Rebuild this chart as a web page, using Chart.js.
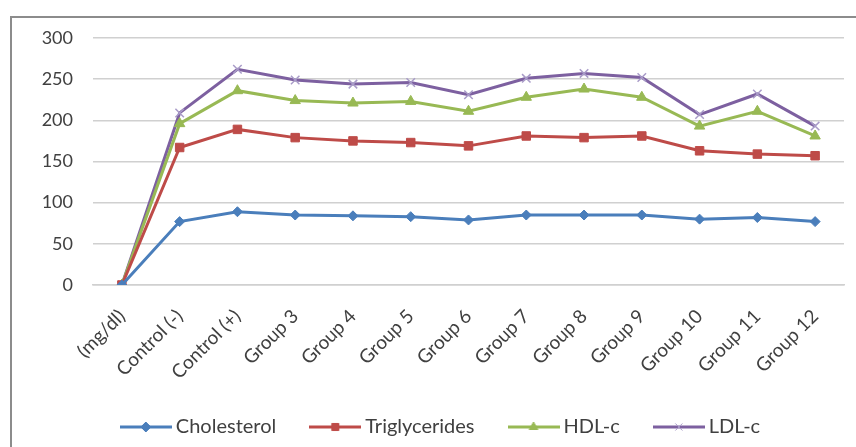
<!DOCTYPE html>
<html>
<head>
<meta charset="utf-8">
<script src="https://cdn.jsdelivr.net/npm/chart.js@4.4.0/dist/chart.umd.min.js"></script>
<style>
  html, body { margin: 0; padding: 0; background: #fff; }
  #wrap { position: relative; width: 856px; height: 447px; }
  #frame { position: absolute; left: 10px; top: 16px; width: 860px; height: 440px;
           border-left: 2px solid #8c8c8c; border-top: 2px solid #8c8c8c; box-sizing: border-box; }
  canvas { position: absolute; left: 0; top: 0; }
</style>
</head>
<body>
<div id="wrap">
  <div id="frame"></div>
  <canvas id="c" width="856" height="447"></canvas>
</div>
<script>
const categories = ["(mg/dl)", "Control (-)", "Control (+)", "Group 3", "Group 4", "Group 5", "Group 6", "Group 7", "Group 8", "Group 9", "Group 10", "Group 11", "Group 12"];
const cholesterol   = [0, 77, 89, 85, 84, 83, 79, 85, 85, 85, 80, 82, 77];
const triglycerides = [0, 167, 189, 179, 175, 173, 169, 181, 179, 181, 163, 159, 157];
const hdlc          = [0, 196, 236, 224, 221, 223, 211, 228, 238, 228, 193, 211, 181];
const ldlc          = [0, 209, 262, 249, 244, 246, 231, 251, 257, 252, 207, 232, 193];
const yTicks = [0, 50, 100, 150, 200, 250, 300];

const seriesDefs = [
  { label: "Cholesterol",   data: cholesterol,   color: "#4a7ebb", style: "rectRot",  r: 5 },
  { label: "Triglycerides", data: triglycerides, color: "#be4b48", style: "rect",     r: 6 },
  { label: "HDL-c",         data: hdlc,          color: "#98b954", style: "triangle", r: 6 },
  { label: "LDL-c",         data: ldlc,          color: "#7d60a0", style: "crossRot", r: 6 }
];

function legendImage(def) {
  const cv = document.createElement("canvas");
  cv.width = 52; cv.height = 14;
  const ctx = cv.getContext("2d");
  ctx.strokeStyle = def.color; ctx.lineWidth = 3;
  ctx.beginPath(); ctx.moveTo(0, 7); ctx.lineTo(52, 7); ctx.stroke();
  ctx.fillStyle = def.color;
  ctx.strokeStyle = def.style === "crossRot" ? "#a99cc8" : def.color;
  ctx.lineWidth = 1;
  Chart.helpers.drawPoint(ctx, { pointStyle: def.style, radius: 5, borderWidth: 1 }, 26, 7);
  return cv;
}

const datasets = seriesDefs.map(d => ({
  label: d.label,
  data: d.data,
  borderColor: d.color,
  backgroundColor: d.color,
  borderWidth: 3,
  pointStyle: d.style,
  pointRadius: d.r,
  pointBorderColor: d.style === "crossRot" ? "#a99cc8" : d.color,
  pointBackgroundColor: d.color,
  pointBorderWidth: d.style === "crossRot" ? 1.5 : 1,
  tension: 0
}));

const PAD_BOTTOM = 0;
const CHART_BOTTOM = 285;

new Chart(document.getElementById("c"), {
  type: "line",
  data: { labels: categories, datasets },
  options: {
    responsive: false,
    animation: false,
    devicePixelRatio: 1,
    layout: { padding: { left: 42, right: 12, top: 38, bottom: PAD_BOTTOM } },
    plugins: {
      tooltip: { enabled: false },
      legend: {
        position: "bottom",
        labels: {
          usePointStyle: true,
          pointStyleWidth: 40,
          boxHeight: 14,
          padding: 39,
          color: "#404040",
          font: { family: "Lato", size: 20 },
          generateLabels: (chart) => seriesDefs.map((d, i) => ({
            text: d.label,
            pointStyle: legendImage(d),
            fillStyle: d.color,
            strokeStyle: d.color,
            lineWidth: 0,
            hidden: false,
            datasetIndex: i,
            fontColor: "#404040"
          }))
        }
      }
    },
    scales: {
      x: {
        offset: true,
        grid: { display: false },
        border: { display: true, color: "#d0d0d0", width: 1.5 },
        ticks: {
          minRotation: 45, maxRotation: 45,
          color: "#404040",
          font: { family: "Lato", size: 19 },
          padding: 12
        },
        afterFit: (s) => {
          const lh = s.chart.legend ? s.chart.legend.height : 60;
          s.height = s.chart.height - CHART_BOTTOM - lh - PAD_BOTTOM;
        }
      },
      y: {
        min: 0, max: 300,
        afterBuildTicks: (s) => { s.ticks = yTicks.map(v => ({ value: v })); },
        grid: { color: "#d0d0d0", lineWidth: 1.5, drawTicks: false },
        border: { display: false },
        ticks: {
          color: "#404040",
          font: { family: "Lato", size: 18 },
          padding: 20
        },
        afterFit: (s) => { s.width = 51; }
      }
    }
  }
});
</script>
</body>
</html>
